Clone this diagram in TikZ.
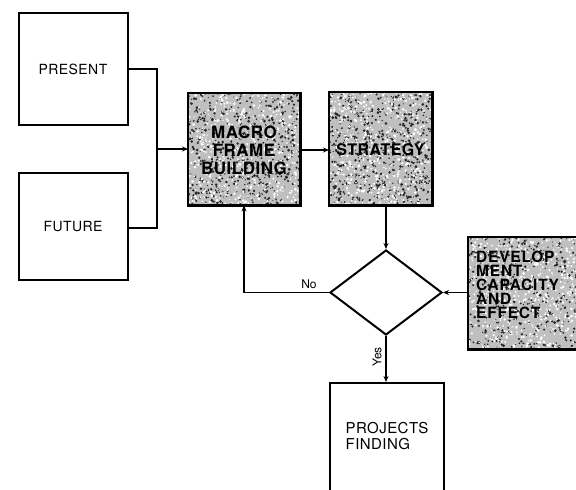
\documentclass[tikz,border=0pt]{standalone}
\usepackage{fontspec}
\setmainfont{TeX Gyre Heros}
\usetikzlibrary{arrows.meta,shapes.geometric,positioning}
\tikzset{
  plainbox/.style={draw, line width=2pt, inner sep=0pt, fill=white},
  shadedfill/.style={fill=black!25, inner sep=0pt},
  shadedrim/.style={draw, line width=2.6pt, inner sep=0pt},
  link/.style={line width=1.5pt, -{Stealth[length=6pt,width=5pt]}},
  wire/.style={line width=1.5pt},
  lbl/.style={font=\fontsize{12}{13}\selectfont, inner sep=0pt},
}
\newcommand\boldlabel[3]{\bfseries\addfontfeature{LetterSpace=#3}\fontsize{#1}{#2}\selectfont}
\newcommand\plainlabel[2]{\addfontfeature{LetterSpace=3}\fontsize{#1}{#2}\selectfont}
% scatter grain over a rectangle: x, y, width, height, count, colour
\newcommand\grainfill[6]{%
  \foreach \k in {1,...,#5}{%
    \pgfmathsetmacro\gx{#1+rnd*#3}%
    \pgfmathsetmacro\gy{#2+rnd*#4}%
    \pgfmathsetmacro\gr{0.5+rnd*1.0}%
    \fill[#6] (\gx,\gy) circle[radius=\gr];}}
\begin{document}
\begin{tikzpicture}[x=1pt,y=-1pt]
\pgfmathsetseed{4711}
\useasboundingbox (0,0) rectangle (576,490);
\clip (0,0) rectangle (576,490);

% input boxes
\node[plainbox, minimum width=109pt, minimum height=112pt, anchor=north west,
  font=\plainlabel{14}{16}] (present) at (17.5,12) {PRESENT};
\node[plainbox, minimum width=109pt, minimum height=107pt, anchor=north west,
  font=\plainlabel{14}{16}] (future) at (17.5,172) {FUTURE};

% grainy process boxes
\node[shadedfill, minimum width=112pt, minimum height=112pt, anchor=north west] (macro) at (188,93) {};
\node[shadedfill, minimum width=103pt, minimum height=113pt, anchor=north west] (strategy) at (329,92) {};
\node[shadedfill, minimum width=130pt, minimum height=112pt, anchor=north west] (devel) at (468,237) {};
\grainfill{188}{93}{112}{112}{600}{black!85}
\grainfill{329}{92}{103}{113}{620}{black!85}
\grainfill{468}{237}{110}{112}{420}{black!85}
\grainfill{188}{93}{112}{112}{500}{white}
\grainfill{329}{92}{103}{113}{500}{white}
\grainfill{468}{237}{110}{112}{600}{white}
\draw[shadedrim] (macro.north west) rectangle (macro.south east);
\draw[shadedrim] (strategy.north west) rectangle (strategy.south east);
\draw[shadedrim] (devel.north west) rectangle (devel.south east);

\node[inner sep=1pt, align=center, font=\boldlabel{17}{18}{3}] (macrotext) at (244,150)
  {MACRO\\FRAME\\BUILDING};
\node[inner sep=1pt, font=\boldlabel{16}{18}{3}] (strategytext) at (380.5,150) {STRATEGY};
\node[anchor=north west, align=left, inner sep=0pt,
  font=\boldlabel{15.5}{14}{5}] (develtext) at (476,251)
  {DEVELOP\\MENT\\CAPACITY\\AND\\EFFECT};

% decision
\node[draw, diamond, line width=2pt, inner sep=0pt, minimum width=112pt,
  minimum height=85pt] (decide) at (386,292.5) {};

% result box, running off the lower edge
\node[plainbox, minimum width=114pt, minimum height=120pt, anchor=north west] (projects) at (329,382) {};
\node[anchor=north west, align=left, inner sep=0pt,
  font=\plainlabel{15}{16}] (projtext) at (345.5,422)
  {PROJECTS\\FINDING};

% inputs merge into the frame building step
\coordinate (join) at (157,149);
\draw[wire] (present.east |- 0,69) -| (join);
\draw[wire] (future.east |- 0,228) -| (join);
\draw[link] (join) -- (macro.west |- join);

% main chain
\draw[link] (macro.east |- 0,150) -- (strategy.west |- 0,150);
\draw[link] (strategy.south -| decide.north) -- (decide.north);
\draw[link] (devel.west |- decide.east) -- (decide.east);

% No: back to frame building
\coordinate (back) at (244,292.5);
\draw[link] (decide.west) -- (back) -- (back |- macro.south);
\node[lbl, anchor=south] (nolbl) at (309,289) {No};

% Yes: on to projects
\draw[link] (decide.south) -- (decide.south |- projects.north);
\node[lbl, rotate=90] (yeslbl) at (377,357) {Yes};
\end{tikzpicture}
\end{document}
